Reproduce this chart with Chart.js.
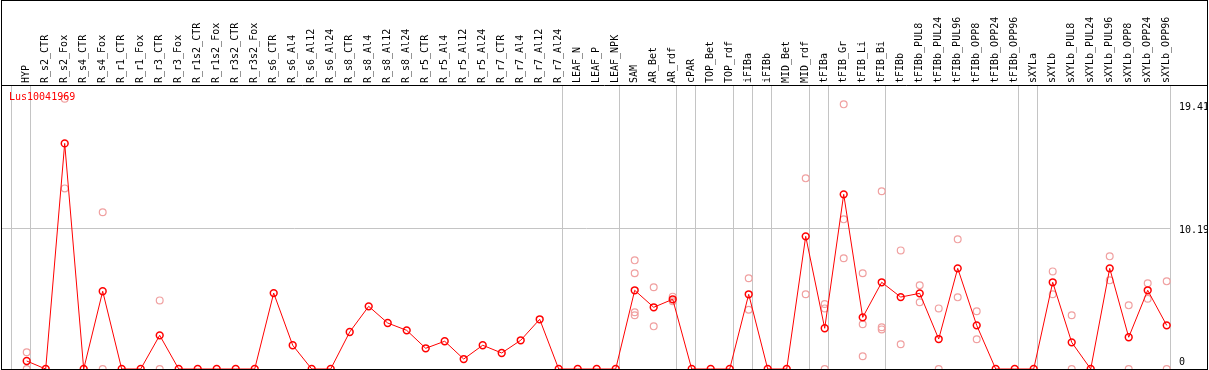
<!DOCTYPE html>
<html>
<head>
<meta charset="utf-8">
<script src="https://cdn.jsdelivr.net/npm/chart.js@4.4.1/dist/chart.umd.min.js"></script>
<style>
  html, body { margin: 0; padding: 0; background: #ffffff; }
  #wrap { width: 1209px; height: 370px; }
</style>
</head>
<body>
<div id="wrap"><canvas id="c" width="1209" height="370"></canvas></div>
<script>
const geneName = 'Lus10041969';

const categories = [
  'HYP','R_s2_CTR','R_s2_Fox','R_s4_CTR','R_s4_Fox','R_r1_CTR','R_r1_Fox','R_r3_CTR','R_r3_Fox',
  'R_r1s2_CTR','R_r1s2_Fox','R_r3s2_CTR','R_r3s2_Fox','R_s6_CTR','R_s6_Al4','R_s6_Al12','R_s6_Al24',
  'R_s8_CTR','R_s8_Al4','R_s8_Al12','R_s8_Al24','R_r5_CTR','R_r5_Al4','R_r5_Al12','R_r5_Al24',
  'R_r7_CTR','R_r7_Al4','R_r7_Al12','R_r7_Al24','LEAF_N','LEAF_P','LEAF_NPK','SAM','AR_Bet','AR_rdf',
  'cPAR','TOP_Bet','TOP_rdf','iFIBa','iFIBb','MID_Bet','MID_rdf','tFIBa','tFIB_Gr','tFIB_Li','tFIB_Bi',
  'tFIBb','tFIBb_PUL8','tFIBb_PUL24','tFIBb_PUL96','tFIBb_OPP8','tFIBb_OPP24','tFIBb_OPP96','sXYLa',
  'sXYLb','sXYLb_PUL8','sXYLb_PUL24','sXYLb_PUL96','sXYLb_OPP8','sXYLb_OPP24','sXYLb_OPP96'
];

const meanValues = [
  0.58, 0, 16.34, 0, 5.63, 0, 0, 2.44, 0, 0, 0, 0, 0, 5.50, 1.72, 0, 0,
  2.68, 4.54, 3.33, 2.80, 1.50, 2.01, 0.72, 1.72, 1.16, 2.08, 3.60, 0, 0, 0, 0,
  5.70, 4.47, 5.05, 0, 0, 0, 5.41, 0, 0, 9.61, 2.95, 12.65, 3.74, 6.28,
  5.21, 5.48, 2.17, 7.29, 3.16, 0, 0, 0, 6.28, 1.93, 0, 7.29, 2.30, 5.70, 3.16
];

const replicates = [
  [1.21, 0], [], [19.57, 13.08], [], [11.35, 0], [], [], [4.97, 0], [], [], [], [], [], [], [], [], [],
  [], [], [], [], [], [], [], [], [], [], [], [], [], [], [],
  [7.87, 6.93, 4.11, 3.89], [5.92, 3.09], [5.24, 4.90], [], [], [], [6.57, 4.29], [], [],
  [13.81, 5.41], [4.71, 4.39, 0], [19.17, 10.84, 8.02], [6.93, 3.24, 0.92], [12.87, 3.02, 2.87],
  [8.59, 1.79], [6.06, 4.83], [4.39, 0], [9.39, 5.19], [4.18, 2.15], [], [], [],
  [7.07, 5.41], [3.89, 0], [], [8.16, 6.42], [4.61, 0], [6.21, 5.09], [6.35, 0]
];

const yTicks = [0, 10.19, 19.41];
const groupEnds = [-1, 0, 28, 31, 34, 35, 37, 38, 39, 41, 42, 45, 52, 53, 60];

// ---- build datasets from the arrays ----
const meanPoints = meanValues.map((v, i) => ({ x: i, y: v }));
const repPoints = [];
replicates.forEach((arr, i) => arr.forEach(v => repPoints.push({ x: i, y: v })));

const X_MIN = -1.3, X_MAX = 60.226, Y_MAX = 20.57;
const GRID_GRAY = '#c4c4c4';
const MONO = "'DejaVu Sans Mono', monospace";

Chart.defaults.font.family = MONO;
Chart.defaults.font.size = 10;
Chart.defaults.color = '#000';

function zeroPad(s) {
  s.paddingTop = 0; s.paddingBottom = 0; s.paddingLeft = 0; s.paddingRight = 0;
}

const framePlugin = {
  id: 'frame',
  afterDraw(chart) {
    const ctx = chart.ctx;
    const ca = chart.chartArea;
    ctx.save();
    ctx.strokeStyle = '#000';
    ctx.lineWidth = 1;
    ctx.strokeRect(1.5, 0.5, 1206, 369);
    ctx.beginPath();
    ctx.moveTo(1, Math.round(ca.top) + 0.5);
    ctx.lineTo(1208, Math.round(ca.top) + 0.5);
    ctx.stroke();
    ctx.fillStyle = '#ff0000';
    ctx.font = '10px ' + MONO;
    ctx.textAlign = 'left';
    ctx.textBaseline = 'middle';
    ctx.fillText(geneName, 9, ca.top + 12);
    ctx.restore();
  }
};

new Chart(document.getElementById('c'), {
  type: 'line',
  data: {
    datasets: [
      {
        label: 'mean',
        data: meanPoints,
        xAxisID: 'x',
        yAxisID: 'y',
        borderColor: '#ff0000',
        borderWidth: 1,
        pointRadius: 3.4,
        pointBorderWidth: 1.5,
        pointBorderColor: '#ff0000',
        pointBackgroundColor: 'rgba(0,0,0,0)',
        tension: 0,
        clip: false
      },
      {
        label: 'replicates',
        data: repPoints,
        xAxisID: 'x',
        yAxisID: 'y',
        showLine: false,
        pointRadius: 3.4,
        pointBorderWidth: 1.2,
        pointBorderColor: '#f0a0a0',
        pointBackgroundColor: 'rgba(0,0,0,0)',
        clip: false
      }
    ]
  },
  options: {
    responsive: false,
    animation: false,
    layout: { autoPadding: false, padding: { left: 2, right: 1, top: 0, bottom: 1 } },
    plugins: { legend: { display: false }, tooltip: { enabled: false }, title: { display: false } },
    scales: {
      x: {
        type: 'linear',
        position: 'top',
        min: X_MIN,
        max: X_MAX,
        afterBuildTicks: (s) => { s.ticks = categories.map((c, i) => ({ value: i })); },
        afterFit: (s) => { s.height = 85; zeroPad(s); },
        grid: { display: false, drawTicks: false },
        border: { display: false },
        ticks: {
          autoSkip: false,
          minRotation: 90,
          maxRotation: 90,
          padding: 2,
          labelOffset: 11.5,
          color: '#000',
          font: { family: MONO, size: 10 },
          callback: (v) => categories[v]
        }
      },
      xg: {
        type: 'linear',
        position: 'bottom',
        min: X_MIN,
        max: X_MAX,
        afterBuildTicks: (s) => { s.ticks = groupEnds.map(g => ({ value: g + 0.2 })); },
        afterFit: (s) => { s.height = 0; zeroPad(s); },
        grid: { display: true, drawTicks: false, color: GRID_GRAY, lineWidth: 1 },
        border: { display: false },
        ticks: { display: false }
      },
      y: {
        type: 'linear',
        position: 'right',
        min: 0,
        max: Y_MAX,
        afterBuildTicks: (s) => { s.ticks = yTicks.map(v => ({ value: v })); },
        afterFit: (s) => { s.width = 37; zeroPad(s); },
        grid: {
          drawTicks: false,
          color: (c) => (c.tick && c.tick.value === 10.19 ? GRID_GRAY : 'rgba(0,0,0,0)'),
          lineWidth: 1
        },
        border: { display: false },
        ticks: {
          padding: 8,
          labelOffset: 2,
          color: '#000',
          font: { family: MONO, size: 10, lineHeight: '9px' },
          callback: (v) => {
            if (v === 0) return ['0', '', ''];
            if (v === yTicks[yTicks.length - 1]) return ['', String(v)];
            return String(v);
          }
        }
      }
    }
  },
  plugins: [framePlugin]
});
</script>
</body>
</html>
